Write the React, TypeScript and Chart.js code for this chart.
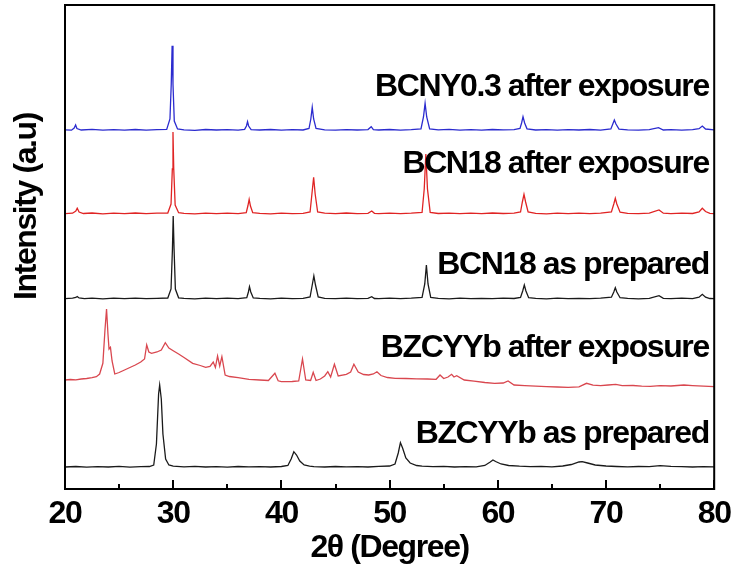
import React, { useEffect, useRef } from "react";
import { Chart, registerables } from "chart.js";
Chart.register(...registerables);

// 2θ (degree), intensity (a.u., stacked offsets as in the figure)
const BCNY03_AFTER: [number, number][] = [
  [20, 359.2], [20.6, 358.8], [20.85, 361], [20.98, 364], [21.1, 360.5], [21.5, 359], [22.5, 359.6], [23.5, 358.8],
  [24.5, 359.4], [25.5, 358.9], [26.5, 359.5], [27.5, 358.8], [28.5, 359.3], [29.4, 359.6], [29.7, 370], [29.82, 405],
  [29.9, 443.3], [29.98, 405], [30.1, 368], [30.4, 360], [31, 359.2], [32, 358.7], [33, 359.5], [34, 359], [35, 359.4],
  [36, 358.8], [36.6, 359.6], [36.77, 363], [36.87, 367.3], [36.97, 363], [37.2, 359.4], [38, 359], [39, 359.5],
  [40, 358.8], [41, 359.3], [42, 359], [42.55, 360.5], [42.72, 370], [42.85, 381.7], [42.98, 370], [43.2, 360.5],
  [44, 359.2], [45, 358.8], [46, 359.4], [47, 359], [48, 359.4], [48.3, 362.3], [48.5, 359.3], [49, 359], [50, 359.5],
  [51, 358.8], [52, 359.3], [52.9, 360], [53.13, 372], [53.28, 385.7], [53.43, 372], [53.7, 360], [54.5, 359.2],
  [55.5, 359.6], [56.5, 358.9], [57.5, 359.4], [58.5, 358.8], [59.5, 359.5], [60.5, 359.1], [61.5, 359.4], [62.05, 360.5],
  [62.2, 366], [62.33, 372.3], [62.48, 366], [62.7, 360.2], [63.5, 359], [64.5, 359.4], [65.5, 358.9], [66.5, 359.3],
  [67.5, 359], [68.5, 359.5], [69.5, 358.8], [70.45, 360], [70.63, 365], [70.77, 369], [70.92, 365], [71.2, 359.8],
  [72, 359.2], [73, 358.9], [74, 359.4], [74.85, 361.3], [75.3, 359], [76, 359.3], [77, 358.8], [78, 359.4],
  [78.6, 360.3], [78.9, 363], [79.2, 360], [80, 359.2],
];

const BCN18_AFTER: [number, number][] = [
  [20, 275.3], [20.7, 275.8], [21.0, 278], [21.13, 280.7], [21.3, 277], [21.7, 275.5], [22.5, 276], [23.5, 275.2],
  [24.5, 275.9], [25.5, 275.4], [26.5, 276], [27.5, 275.3], [28.5, 275.8], [29.5, 276], [29.8, 285], [29.92, 320],
  [29.98, 357], [30.05, 320], [30.18, 284], [30.5, 276.3], [31, 275.6], [32, 275.2], [33, 275.9], [34, 275.4],
  [35, 275.8], [36, 275.3], [36.75, 276.3], [36.9, 283], [37.02, 289.7], [37.14, 283], [37.35, 276.3], [38, 275.6],
  [39, 275.2], [40, 275.9], [41, 275.4], [42, 275.7], [42.65, 277], [42.82, 295], [42.98, 311.7], [43.12, 295],
  [43.35, 277], [44, 275.8], [45, 275.3], [46, 276], [47, 275.4], [48, 275.6], [48.35, 278], [48.6, 275.7], [49, 275.3],
  [50, 275.9], [51, 275.4], [52, 275.8], [53, 276.5], [53.2, 300], [53.35, 335], [53.5, 300], [53.75, 276.6],
  [54.5, 275.5], [55.5, 275.9], [56.5, 275.3], [57.5, 275.8], [58.5, 275.4], [59.5, 276], [60.5, 275.5], [61.5, 275.8],
  [62.1, 277], [62.27, 287], [62.42, 294.7], [62.57, 287], [62.8, 277], [63.5, 275.6], [64.5, 275.2], [65.5, 275.9],
  [66.5, 275.4], [67.5, 275.8], [68.5, 275.3], [69.5, 275.9], [70.5, 277], [70.72, 285], [70.86, 290.7], [71.0, 285],
  [71.3, 276.8], [72, 275.7], [73, 275.3], [74, 275.8], [74.9, 279], [75.3, 275.8], [76, 275.4], [77, 275.9],
  [78, 275.5], [78.6, 277], [78.9, 280.7], [79.2, 277.5], [79.6, 275.6], [80, 275.4],
];

const BCN18_PREPARED: [number, number][] = [
  [20, 190.3], [20.7, 190.8], [21.0, 191.5], [21.13, 192.5], [21.3, 191], [21.8, 190.4], [22.5, 190.9], [23.5, 190.2],
  [24.5, 190.8], [25.5, 190.3], [26.5, 190.9], [27.5, 190.4], [28.5, 190.7], [29.5, 191], [29.8, 200], [29.93, 240],
  [30.0, 273], [30.08, 240], [30.2, 200], [30.5, 191.2], [31, 190.6], [32, 190.2], [33, 190.9], [34, 190.4],
  [35, 190.8], [36, 190.3], [36.8, 191.3], [36.95, 197], [37.05, 202.3], [37.17, 197], [37.4, 191], [38, 190.6],
  [39, 190.2], [40, 190.9], [41, 190.4], [42, 190.7], [42.65, 192], [42.85, 204], [43.0, 213], [43.15, 204],
  [43.4, 192], [44, 190.7], [45, 190.3], [46, 190.9], [47, 190.4], [48, 190.6], [48.35, 192.3], [48.6, 190.5],
  [49, 190.3], [50, 190.8], [51, 190.4], [52, 190.8], [53, 191.5], [53.25, 205], [53.4, 224], [53.55, 205],
  [53.8, 191.5], [54.5, 190.6], [55.5, 190.2], [56.5, 190.8], [57.5, 190.3], [58.5, 190.7], [59.5, 190.4],
  [60.5, 190.9], [61.5, 190.5], [62.1, 191.5], [62.3, 198], [62.45, 204], [62.6, 198], [62.85, 191.3], [63.5, 190.6],
  [64.5, 190.2], [65.5, 190.8], [66.5, 190.3], [67.5, 190.7], [68.5, 190.4], [69.5, 190.8], [70.5, 191.8],
  [70.72, 197], [70.86, 201.3], [71.0, 197], [71.3, 191.3], [72, 190.6], [73, 190.2], [74, 190.7], [74.9, 193.3],
  [75.3, 190.6], [76, 190.3], [77, 190.8], [78, 190.4], [78.6, 191.8], [78.9, 194.7], [79.2, 191.8], [79.6, 190.5],
  [80, 190.3],
];

const BZCYYB_AFTER: [number, number][] = [
  [20, 109], [20.5, 109.5], [21, 109.2], [21.5, 110], [22, 110.5], [22.5, 111.3], [22.9, 112.3], [23.2, 115],
  [23.5, 125.7], [23.7, 160], [23.84, 180], [23.97, 155], [24.07, 140], [24.2, 141.7], [24.35, 128], [24.6, 115],
  [25, 116.5], [25.5, 119], [26, 121.5], [26.5, 124], [27, 127], [27.35, 130], [27.55, 144], [27.75, 137],
  [28, 135.7], [28.5, 137], [28.9, 139], [29.27, 146.3], [29.6, 141], [30, 138.3], [30.5, 135], [31, 131.5],
  [31.8, 125.7], [32.5, 123.5], [33, 121.7], [33.4, 122.5], [33.7, 127], [33.9, 121.5], [34.1, 133], [34.3, 123],
  [34.5, 132.3], [34.8, 114], [35.2, 112.5], [36, 111.3], [37, 109.7], [38, 109], [38.8, 108.5], [39.4, 115.7],
  [39.7, 108.2], [40, 107.3], [41, 107.5], [41.6, 108], [41.95, 130], [42.25, 109], [42.7, 108.5], [42.94, 116.7],
  [43.2, 108.5], [43.6, 110], [44, 113], [44.29, 117.3], [44.55, 112], [44.9, 124.7], [45.25, 113], [46, 114.7],
  [46.4, 117], [46.7, 124.7], [47.1, 117], [47.6, 114.5], [48.07, 114], [48.5, 115], [48.83, 117.3], [49.2, 113.5],
  [49.8, 111.5], [50.52, 110.7], [51.5, 110.5], [52.5, 110.2], [53.5, 110], [54.3, 109.7], [54.66, 114], [55, 110.5],
  [55.4, 112], [55.73, 114.7], [55.95, 112], [56.2, 113.3], [56.9, 109], [57.8, 107.8], [58.8, 106.5], [59.7, 105.7],
  [60.5, 106], [60.95, 108], [61.5, 104], [62.5, 103.3], [63.5, 102.8], [64.5, 102.3], [65.5, 102], [66.5, 101.7],
  [67.5, 102.2], [68.2, 105.7], [68.8, 103.8], [69.5, 103.3], [70.2, 104], [70.9, 104.7], [71.5, 103.3],
  [72.5, 103.5], [73.3, 102.8], [74.1, 102.7], [75, 103.4], [76, 103], [77.2, 104], [78, 103.4], [79, 102.8],
  [80, 102.3],
];

const BZCYYB_PREPARED: [number, number][] = [
  [20, 22], [21, 22.5], [22, 21.8], [23, 22.4], [24, 22], [25, 22.6], [26, 21.9], [27, 22.3], [27.8, 22.5],
  [28.2, 24], [28.45, 45], [28.65, 95], [28.75, 104], [28.9, 90], [29.05, 55], [29.3, 30], [29.6, 24], [30, 22.8],
  [31, 22.2], [32, 22.6], [33, 22], [34, 22.4], [35, 21.9], [36, 22.5], [37, 22.1], [38, 22.4], [39, 22], [40, 22.5],
  [40.6, 23.5], [40.9, 30], [41.15, 37.3], [41.4, 34], [41.7, 28], [42.1, 24], [42.6, 22.8], [43, 22.3], [44, 22],
  [45, 22.5], [46, 22.1], [47, 22.4], [48, 22], [49, 22.6], [50, 23], [50.5, 25], [50.8, 36], [51.0, 46.3],
  [51.2, 41], [51.5, 31], [51.9, 26], [52.5, 23.5], [53, 22.8], [54, 22.3], [55, 22.6], [56, 22], [57, 22.4],
  [58, 22.2], [58.8, 23.5], [59.3, 27], [59.55, 29], [59.8, 27.5], [60.3, 25], [61, 23.5], [62, 22.8], [63, 22.4],
  [64, 22.6], [65, 22.2], [66, 23], [66.8, 24.5], [67.5, 27], [67.8, 27.3], [68.3, 26], [69, 24], [70, 23],
  [71, 22.5], [72, 22.2], [73, 22.5], [74, 22.4], [75, 23.4], [76, 22.6], [77, 22.3], [78, 22], [79, 22.4], [80, 22.2],
];

const SERIES_LABELS = [
  "BCNY0.3 after exposure",
  "BCN18 after exposure",
  "BCN18 as prepared",
  "BZCYYb after exposure",
  "BZCYYb as prepared",
];
const SERIES_DATA = [BCNY03_AFTER, BCN18_AFTER, BCN18_PREPARED, BZCYYB_AFTER, BZCYYB_PREPARED];
const SERIES_COLORS = ["#2b2bcf", "#e02424", "#1a1a1a", "#d9474f", "#1a1a1a"];
const LABEL_LEVELS = [393, 315.7, 215, 131.7, 45.7];

const X_MAJOR = [20, 30, 40, 50, 60, 70, 80];
const X_MINOR = [25, 35, 45, 55, 65, 75];
const X_TITLE = "2θ (Degree)";
const Y_TITLE = "Intensity (a.u)";

const FONT = "'Liberation Sans', Arial, Helvetica, sans-serif";

export default function App() {
  const ref = useRef<HTMLCanvasElement>(null);

  useEffect(() => {
    const canvas = ref.current;
    if (!canvas) return;

    const decor = {
      id: "decor",
      beforeDraw(chart: any) {
        chart.ctx.letterSpacing = "-1.4px";
      },
      afterDraw(chart: any) {
        const ctx = chart.ctx as CanvasRenderingContext2D;
        const a = chart.chartArea;
        const x = chart.scales.x;
        const y = chart.scales.y;
        ctx.save();
        ctx.strokeStyle = "#000";
        ctx.lineWidth = 2;
        ctx.strokeRect(a.left, a.top, a.right - a.left, a.bottom - a.top);
        ctx.beginPath();
        for (const v of X_MAJOR) {
          const px = Math.round(x.getPixelForValue(v));
          ctx.moveTo(px, a.bottom);
          ctx.lineTo(px, a.bottom - 9);
        }
        for (const v of X_MINOR) {
          const px = Math.round(x.getPixelForValue(v));
          ctx.moveTo(px, a.bottom);
          ctx.lineTo(px, a.bottom - 5);
        }
        ctx.stroke();

        ctx.fillStyle = "#000";
        ctx.font = `bold 32px ${FONT}`;
        (ctx as any).letterSpacing = "-1.4px";
        ctx.textAlign = "right";
        ctx.textBaseline = "alphabetic";
        SERIES_LABELS.forEach((lab, i) => {
          ctx.fillText(lab, x.getPixelForValue(79.5), y.getPixelForValue(LABEL_LEVELS[i]));
        });

        ctx.textAlign = "center";
        ctx.font = `bold 32px ${FONT}`;
        ctx.fillText(X_TITLE, (a.left + a.right) / 2, a.bottom + 68);

        ctx.translate(36, 206.5);
        ctx.rotate(-Math.PI / 2);
        ctx.font = `bold 32px ${FONT}`;
        ctx.fillText(Y_TITLE, 0, 0);
        ctx.restore();
        (ctx as any).letterSpacing = "0px";
      },
    };

    const chart = new Chart(canvas, {
      type: "line",
      data: {
        datasets: SERIES_DATA.map((d, i) => ({
          label: SERIES_LABELS[i],
          data: d.map(([px, py]) => ({ x: px, y: py })),
          borderColor: SERIES_COLORS[i],
          borderWidth: 1.3,
          pointRadius: 0,
          fill: false,
          tension: 0,
        })),
      },
      options: {
        animation: false,
        responsive: false,
        layout: { padding: { left: 65, top: 5, right: 21, bottom: 0 } },
        plugins: { legend: { display: false }, tooltip: { enabled: false } },
        scales: {
          x: {
            type: "linear",
            min: 20,
            max: 80,
            afterBuildTicks: (s: any) => {
              s.ticks = X_MAJOR.map((v) => ({ value: v }));
            },
            afterFit: (s: any) => {
              s.height = 86;
            },
            grid: { display: false, drawTicks: false },
            border: { display: false },
            ticks: {
              color: "#000",
              font: { family: FONT, size: 32, weight: "bold" },
              padding: 6,
              maxRotation: 0,
              autoSkip: false,
            },
          },
          y: { display: false, min: 0, max: 484 },
        },
      },
      plugins: [decor],
    } as any);

    return () => chart.destroy();
  }, []);

  return (
    <div style={{ position: "fixed", left: 0, top: 0, width: 738, height: 575, background: "#fff" }}>
      <canvas ref={ref} width={738} height={575} />
    </div>
  );
}
